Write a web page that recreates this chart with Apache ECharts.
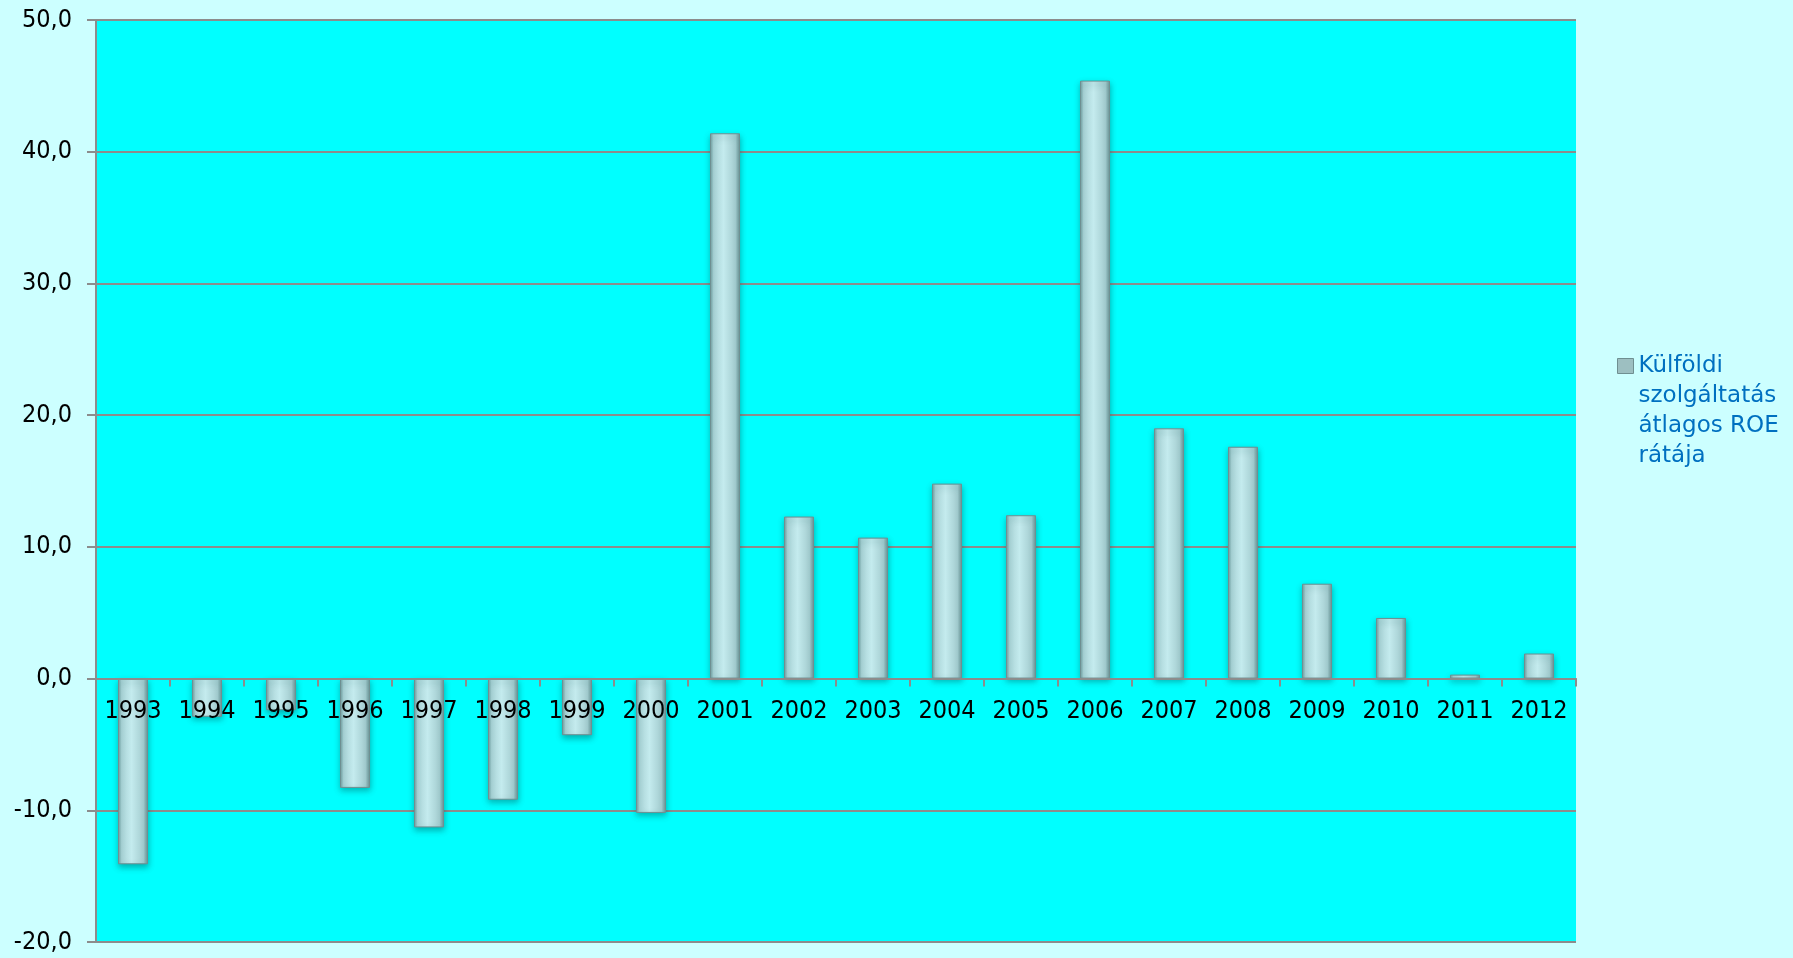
<!DOCTYPE html>
<html>
<head>
<meta charset="utf-8">
<script src="https://cdn.jsdelivr.net/npm/echarts@6/dist/echarts.min.js"></script>
<style>
html,body{margin:0;padding:0;background:#CCFFFF;}
#c{width:1793px;height:958px;}
</style>
</head>
<body>
<div id="c"></div>
<script>
const categories = ['1993','1994','1995','1996','1997','1998','1999','2000','2001','2002','2003','2004','2005','2006','2007','2008','2009','2010','2011','2012'];
const roeValues = [-14.1,-2.9,-2.4,-8.3,-11.3,-9.2,-4.3,-10.2,41.4,12.3,10.7,14.8,12.4,45.4,19.0,17.6,7.2,4.6,0.3,1.9];
const seriesName = 'Külföldi\nszolgáltatás\nátlagos ROE\nrátája';
const yMin = -20, yMax = 50, yStep = 10;

const FONT = '"DejaVu Sans Condensed", "DejaVu Sans", sans-serif';
const W = 1793, H = 958;
const G = {left:96, top:20, right:217, bottom:16};
const gridH = H - G.top - G.bottom;
// place category axis on the zero line
const zeroOffset = -((0 - yMin) / (yMax - yMin)) * gridH;

const chart = echarts.init(document.getElementById('c'), null, {renderer:'canvas'});
const barGrad = new echarts.graphic.LinearGradient(0,0,1,0,[
  {offset:0, color:'#6f9a9c'},
  {offset:0.12, color:'#a9d3d6'},
  {offset:0.45, color:'#c4ebee'},
  {offset:0.85, color:'#a4cdd0'},
  {offset:1, color:'#6a9193'}
]);
chart.setOption({
  backgroundColor:'#CCFFFF',
  animation:false,
  grid:{left:G.left, top:G.top, right:G.right, bottom:G.bottom, show:true, backgroundColor:'#00FFFF', borderWidth:0},
  legend:{
    show:true, orient:'vertical', left:1617, top:261, padding:0,
    itemWidth:16, itemHeight:15, itemGap:5,
    icon:'rect',
    formatter:name=>'\n\n\n'+name,
    itemStyle:{color:'#9dbfc1', borderColor:'#6f8f91', borderWidth:1},
    textStyle:{fontFamily:'"DejaVu Sans", sans-serif', fontSize:23, color:'#0070C0', lineHeight:30}
  },
  xAxis:{
    type:'category', data:categories, offset:zeroOffset, z:10,
    axisLine:{show:true, onZero:false, lineStyle:{color:'#8c8c8c', width:2}},
    axisTick:{show:true, interval:0, alignWithLabel:false, length:8, lineStyle:{color:'#8c8c8c', width:2}},
    axisLabel:{interval:0, margin:20, fontFamily:FONT, fontSize:25, color:'#000'},
    splitLine:{show:false}
  },
  yAxis:{
    type:'value', min:yMin, max:yMax, interval:yStep,
    axisLine:{show:true, lineStyle:{color:'#8c8c8c', width:2}},
    axisTick:{show:true, length:9, lineStyle:{color:'#8c8c8c', width:2}},
    axisLabel:{margin:24, fontFamily:FONT, fontSize:25, color:'#000',
      formatter:v=>v.toFixed(1).replace('.',',')},
    splitLine:{show:true, lineStyle:{color:'#8c8c8c', width:2}}
  },
  series:[{
    name:seriesName, type:'bar', data:roeValues, barWidth:30,
    itemStyle:{color:barGrad, borderColor:'#6f8f91', borderWidth:1,
      shadowBlur:6, shadowColor:'rgba(0,90,90,0.45)', shadowOffsetY:3}
  }]
});
</script>
</body>
</html>
